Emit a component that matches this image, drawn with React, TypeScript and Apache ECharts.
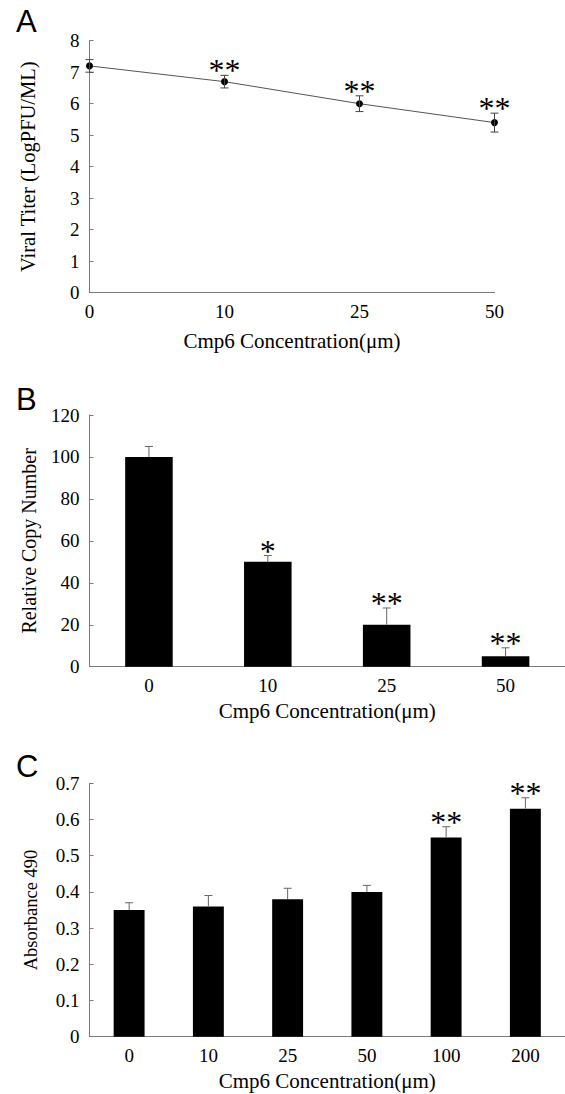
import React, { useEffect, useRef } from "react";
import * as echarts from "echarts";

// Panel A
const catsA = ["0", "10", "25", "50"];
const valsA = [7.2, 6.7, 6.0, 5.4];
const errsA = [0.2, 0.2, 0.25, 0.3];
const starsA = ["", "**", "**", "**"];
// Panel B
const catsB = ["0", "10", "25", "50"];
const valsB = [100, 50, 20, 5];
const errsB = [5, 3, 8, 4];
const starsB = ["", "*", "**", "**"];
// Panel C
const catsC = ["0", "10", "25", "50", "100", "200"];
const valsC = [0.35, 0.36, 0.38, 0.4, 0.55, 0.63];
const errsC = [0.02, 0.03, 0.03, 0.018, 0.03, 0.03];
const starsC = ["", "", "", "", "**", "**"];

const xTitle = "Cmp6 Concentration(μm)";
const yTitleA = "Viral Titer (LogPFU/ML)";
const yTitleB = "Relative Copy Number";
const yTitleC = "Absorbance 490";

const SERIF = "'Liberation Serif', 'Times New Roman', serif";
const AXIS_COLOR = "#7a7a7a";

function errRender(sym: boolean, stars: string[], color: string) {
  return (params: any, api: any) => {
    const i = api.value(0);
    const v = api.value(1);
    const e = api.value(2);
    const mid = api.coord([i, v]);
    const top = api.coord([i, v + e]);
    const bot = sym ? api.coord([i, v - e]) : mid;
    const cw = 4;
    const children: any[] = [
      { type: "line", shape: { x1: top[0], y1: top[1], x2: bot[0], y2: bot[1] }, style: { stroke: color, lineWidth: 1 } },
      { type: "line", shape: { x1: top[0] - cw, y1: top[1], x2: top[0] + cw, y2: top[1] }, style: { stroke: color, lineWidth: 1 } },
    ];
    if (sym) {
      children.push({ type: "line", shape: { x1: bot[0] - cw, y1: bot[1], x2: bot[0] + cw, y2: bot[1] }, style: { stroke: color, lineWidth: 1 } });
    }
    const s = stars[params.dataIndex];
    if (s) {
      children.push({
        type: "text",
        style: { text: s, x: top[0], y: top[1] + 11, align: "center", verticalAlign: "bottom", font: `32px ${SERIF}`, fill: "#000" },
      });
    }
    return { type: "group", children };
  };
}

function yAxisBase(gridIndex: number, min: number, max: number, interval: number, name: string, nameSize: number, nameGap: number, fmt?: (v: number) => string) {
  return {
    type: "value",
    gridIndex,
    min,
    max,
    interval,
    name,
    nameLocation: "middle",
    nameGap,
    nameTextStyle: { fontFamily: SERIF, fontSize: nameSize, color: "#000" },
    axisLine: { show: true, lineStyle: { color: AXIS_COLOR, width: 1 } },
    axisTick: { show: true, inside: true, length: 4, lineStyle: { color: AXIS_COLOR } },
    axisLabel: { fontFamily: SERIF, fontSize: 19, color: "#000", margin: 10, formatter: fmt },
    splitLine: { show: false },
  };
}

function xAxisBase(gridIndex: number, cats: string[], boundaryGap: boolean, nameGap: number) {
  return {
    type: "category",
    gridIndex,
    data: cats,
    boundaryGap,
    name: xTitle,
    nameLocation: "middle",
    nameGap,
    nameTextStyle: { fontFamily: SERIF, fontSize: 21, color: "#000" },
    axisLine: { show: true, lineStyle: { color: AXIS_COLOR, width: 1 } },
    axisTick: { show: false },
    axisLabel: { fontFamily: SERIF, fontSize: 19, color: "#000", margin: 9, interval: 0 },
    splitLine: { show: false },
  };
}

export default function App() {
  const ref = useRef<HTMLDivElement>(null);
  useEffect(() => {
    if (!ref.current) return;
    const chart = echarts.init(ref.current, undefined, { renderer: "svg" });
    const option: any = {
      animation: false,
      backgroundColor: "#fff",
      graphic: [
        { type: "text", left: 16, top: 6, style: { text: "A", font: "31px 'Liberation Sans', Arial, sans-serif", fill: "#000" } },
        { type: "text", left: 16, top: 384, style: { text: "B", font: "31px 'Liberation Sans', Arial, sans-serif", fill: "#000" } },
        { type: "text", left: 16, top: 751, style: { text: "C", font: "31px 'Liberation Sans', Arial, sans-serif", fill: "#000" } },
      ],
      grid: [
        { left: 89.5, top: 40.7, width: 405, height: 252 },
        { left: 89.5, top: 415, width: 476.8, height: 251.7 },
        { left: 89.5, top: 783.3, width: 479, height: 253.4 },
      ],
      xAxis: [
        xAxisBase(0, catsA, false, 38),
        xAxisBase(1, catsB, true, 34),
        xAxisBase(2, catsC, true, 34),
      ],
      yAxis: [
        yAxisBase(0, 0, 8, 1, yTitleA, 20.5, 51),
        yAxisBase(1, 0, 120, 20, yTitleB, 20, 51),
        yAxisBase(2, 0, 0.7, 0.1, yTitleC, 18.5, 49, (v: number) => (v === 0 ? "0" : v.toFixed(1))),
      ],
      series: [
        {
          type: "line",
          xAxisIndex: 0,
          yAxisIndex: 0,
          data: valsA,
          symbol: "circle",
          symbolSize: 7,
          itemStyle: { color: "#000" },
          lineStyle: { color: "#555", width: 1 },
          z: 3,
        },
        {
          type: "custom",
          xAxisIndex: 0,
          yAxisIndex: 0,
          data: valsA.map((v, i) => [i, v, errsA[i]]),
          renderItem: errRender(true, starsA, "#444"),
          z: 4,
        },
        {
          type: "bar",
          xAxisIndex: 1,
          yAxisIndex: 1,
          data: valsB,
          barWidth: "40%",
          itemStyle: { color: "#000" },
        },
        {
          type: "custom",
          xAxisIndex: 1,
          yAxisIndex: 1,
          data: valsB.map((v, i) => [i, v, errsB[i]]),
          renderItem: errRender(false, starsB, "#666"),
          z: 4,
        },
        {
          type: "bar",
          xAxisIndex: 2,
          yAxisIndex: 2,
          data: valsC,
          barWidth: "39%",
          itemStyle: { color: "#000" },
        },
        {
          type: "custom",
          xAxisIndex: 2,
          yAxisIndex: 2,
          data: valsC.map((v, i) => [i, v, errsC[i]]),
          renderItem: errRender(false, starsC, "#666"),
          z: 4,
        },
      ],
    };
    chart.setOption(option);
    return () => chart.dispose();
  }, []);
  return <div ref={ref} style={{ position: "absolute", left: 0, top: 0, width: 565, height: 1094 }} />;
}
